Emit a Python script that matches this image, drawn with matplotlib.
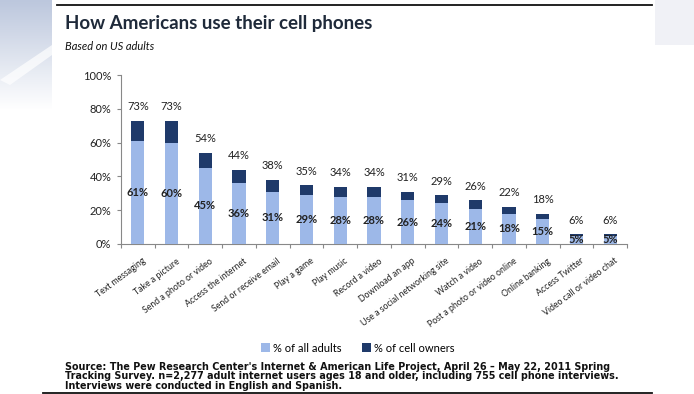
import matplotlib
matplotlib.use("Agg")
import matplotlib.pyplot as plt
import numpy as np
from matplotlib.patches import Patch, Polygon, Rectangle

categories = ["Text messaging", "Take a picture", "Send a photo or video", "Access the internet",
              "Send or receive email", "Play a game", "Play music", "Record a video",
              "Download an app", "Use a social networking site", "Watch a video",
              "Post a photo or video online", "Online banking", "Access Twitter",
              "Video call or video chat"]
all_adults = [61, 60, 45, 36, 31, 29, 28, 28, 26, 24, 21, 18, 15, 5, 5]
cell_owners = [73, 73, 54, 44, 38, 35, 34, 34, 31, 29, 26, 22, 18, 6, 6]
yticks = [0, 20, 40, 60, 80, 100]
ytick_labels = ["0%", "20%", "40%", "60%", "80%", "100%"]
source_lines = [
    "Source: The Pew Research Center's Internet & American Life Project, April 26 – May 22, 2011 Spring",
    "Tracking Survey. n=2,277 adult internet users ages 18 and older, including 755 cell phone interviews.",
    "Interviews were conducted in English and Spanish.",
]

light = "#9DB8E8"
dark = "#1F3A6A"
FONT = ["Lato", "DejaVu Sans"]
plt.rcParams['font.family'] = FONT

W, H = 694, 394
fig = plt.figure(figsize=(W/100, H/100), dpi=100)
fig.patch.set_facecolor("white")

# decorative background (slide template)
deco = fig.add_axes([0, 0, 1, 1], zorder=-5)
deco.set_xlim(0, W); deco.set_ylim(H, 0); deco.axis("off")
grad = np.linspace(1, 0, 100).reshape(-1, 1)
deco.imshow(grad, extent=[0, 52, 110, 0], cmap=matplotlib.colors.LinearSegmentedColormap.from_list(
    "g", ["#FFFFFF", "#BCC7DD"]), aspect="auto", zorder=0)
deco.add_patch(Polygon([[0, 80], [52, 45], [52, 55], [10, 85]], closed=True,
                       facecolor="white", edgecolor="none", alpha=0.7, zorder=1))
deco.add_patch(Rectangle((655, 0), 39, 45, facecolor="#F0F1F6", edgecolor="none"))
deco.set_xlim(0, W); deco.set_ylim(H, 0)
deco.plot([57, 652], [5, 5], color="#111111", lw=1.3)
deco.plot([43, 652], [392.7, 392.7], color="#111111", lw=1.3)

ax = fig.add_axes([121/W, 1-244/H, 506/W, (244-75)/H])
x = np.arange(len(categories))
ax.bar(x, cell_owners, width=0.39, color=dark, zorder=2)
ax.bar(x, all_adults, width=0.39, color=light, zorder=3)

for xi, a, c in zip(x, all_adults, cell_owners):
    ax.annotate(f"{c}%", (xi, c), xytext=(0, 6), textcoords="offset points",
                ha="center", va="bottom", fontsize=8, color="#222222")
    ax.text(xi, a/2 + (0.4 if a < 10 else 0), f"{a}%", ha="center", va="center",
            fontsize=8, color="#222222", fontweight="bold", zorder=4)

ax.set_xlim(-0.5, len(categories) - 0.5)
ax.set_ylim(0, 100)
ax.set_yticks(yticks)
ax.set_yticklabels(ytick_labels, fontsize=8, color="#222222")
ax.set_xticks(np.arange(-0.5, len(categories), 1.0))
ax.set_xticklabels([])
ax.tick_params(axis="x", length=3, color="#888888", direction="out")
ax.tick_params(axis="y", length=3, color="#888888", direction="out", pad=4)
for s in ["top", "right"]:
    ax.spines[s].set_visible(False)
for s in ["left", "bottom"]:
    ax.spines[s].set_color("#888888")
    ax.spines[s].set_linewidth(0.8)

for xi, cat in zip(x, categories):
    ax.annotate(cat, (xi, 0), xytext=(3, -9), textcoords="offset points",
                ha="right", va="top", rotation=37, rotation_mode="anchor",
                fontsize=6.3, color="#222222")

fig.text(65/W, 1-23/H, "How Americans use their cell phones", fontsize=13.5,
         fontweight="bold", color="#1F2A3A", va="center")
fig.text(65/W, 1-46/H, "Based on US adults", fontsize=8, style="italic",
         color="#111111", va="center")

handles = [Patch(facecolor=light, edgecolor="none", label="% of all adults"),
           Patch(facecolor=dark, edgecolor="none", label="% of cell owners")]
fig.legend(handles=handles, loc="center", bbox_to_anchor=(358/W, 1-348/H), ncol=2,
           frameon=False, fontsize=8, handlelength=0.8, handleheight=0.8,
           handletextpad=0.3, columnspacing=1.8)

for yy, line in zip([366.5, 376.2, 385.9], source_lines):
    fig.text(65/W, 1-yy/H, line, fontsize=6.9, fontweight="bold", color="#111111",
             va="center", family=["DejaVu Sans"])

fig.savefig("out.png", dpi=100)
